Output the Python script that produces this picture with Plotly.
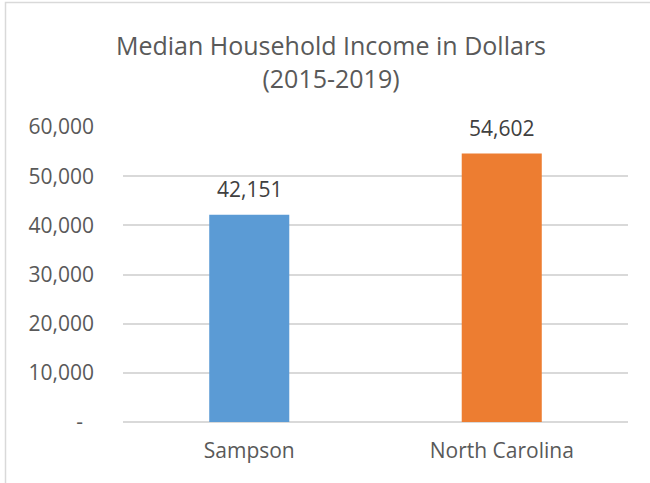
import plotly.graph_objects as go

# data
areas = ["Sampson", "North Carolina"]
income = [42151, 54602]
bar_colors = ["#5B9BD5", "#ED7D31"]
tick_vals = [0, 10000, 20000, 30000, 40000, 50000, 60000]
tick_text = ["-\u00a0\u00a0", "10,000", "20,000", "30,000", "40,000", "50,000", "60,000"]

W, H = 650, 483
ml, mr, mt, mb = 123, 22, 127, 61
pw, ph = W - ml - mr, H - mt - mb

fig = go.Figure()

fig.add_trace(go.Bar(x=areas, y=income,
                     marker=dict(color=bar_colors, line=dict(width=0)),
                     width=0.317, hoverinfo="x+y"))

# data labels above the bars
for a, v in zip(areas, income):
    fig.add_annotation(x=a, y=v, text=f"{v:,}", showarrow=False,
                       yanchor="bottom", yshift=10,
                       font=dict(family="Open Sans", size=21, color="#404040"))

# light chart frame like the excel chart area border
fig.add_shape(type="rect", xref="paper", yref="paper",
              x0=(5.5 - ml) / pw, x1=(W + 20 - ml) / pw,
              y0=-(H + 20 - (mt + ph)) / ph, y1=(mt + ph - 2.5) / ph,
              line=dict(color="#D9D9D9", width=1.5), layer="below")

fig.update_layout(
    width=W, height=H,
    margin=dict(l=ml, r=mr, t=mt, b=mb),
    paper_bgcolor="white", plot_bgcolor="white",
    showlegend=False,
    title=dict(text="Median Household Income in Dollars<br>(2015-2019)",
               x=331 / W, xref="container", xanchor="center",
               y=1 - 55 / H, yref="container", yanchor="top",
               font=dict(family="Open Sans", size=25, color="#595959")),
    font=dict(family="Open Sans", color="#595959"),
)

fig.update_xaxes(showgrid=False, showline=False, ticks="", ticklabelstandoff=14,
                 tickfont=dict(size=21, color="#595959"))
fig.update_yaxes(range=[0, 60000], tickvals=tick_vals, ticktext=tick_text,
                 showgrid=True, gridcolor="#D9D9D9", gridwidth=1.5,
                 zeroline=True, zerolinecolor="#D9D9D9", zerolinewidth=1.5,
                 showline=False, ticks="", ticklabelstandoff=28,
                 tickfont=dict(size=21, color="#595959"))

# drop the default page margin so the chart sits at the window's top-left
fig.write_html("out.html", config={"displayModeBar": False},
               post_script="document.body.style.margin='0px';")
